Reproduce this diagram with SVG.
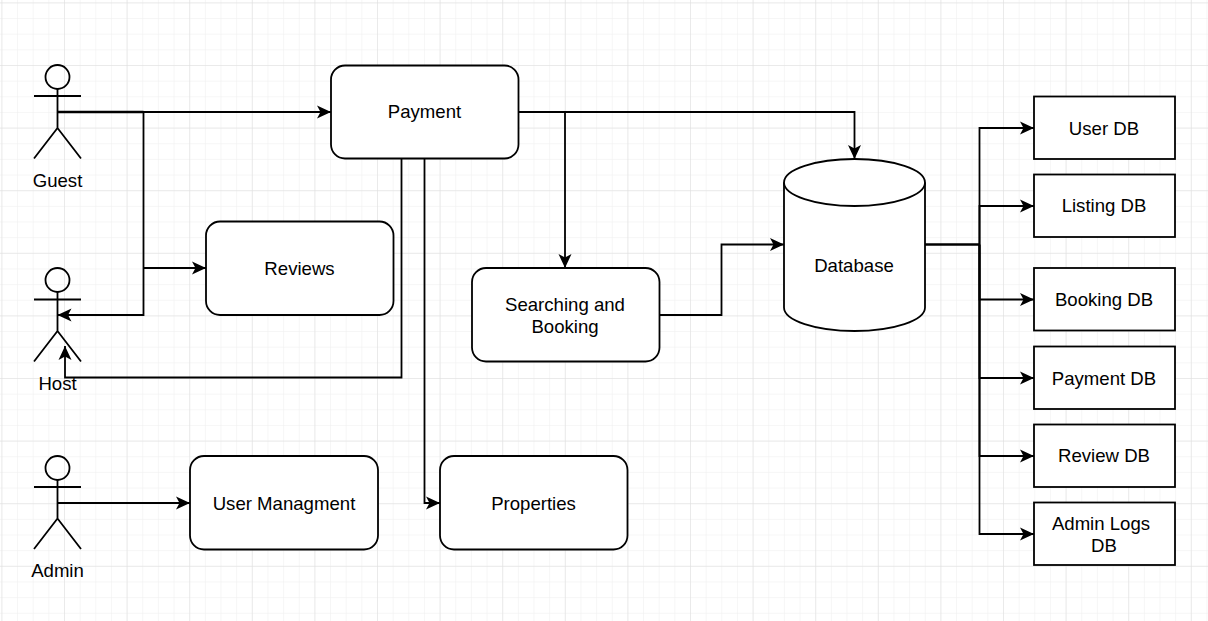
<svg xmlns="http://www.w3.org/2000/svg" width="1208" height="621" viewBox="0 0 1208 621">
<style>
text{font-family:"Liberation Sans",Arial,sans-serif;font-size:18.6px;fill:#000;text-anchor:middle}
.s{fill:#fff;stroke:#000;stroke-width:1.8}
.a{fill:none;stroke:#000;stroke-width:1.8}
.b{fill:none;stroke:#000;stroke-width:2.4}
.c{fill:none;stroke:#000;stroke-width:1.8;marker-end:url(#arr)}
</style>
<defs>
<pattern id="minor" width="15.65" height="15.65" patternUnits="userSpaceOnUse" x="1.4" y="2.4"><path d="M15.65 0H0V15.65" fill="none" stroke="#eeeeee" stroke-width="1"/></pattern>
<pattern id="major" width="62.6" height="62.6" patternUnits="userSpaceOnUse" x="1.4" y="2.4"><path d="M62.6 0H0V62.6" fill="none" stroke="#dedede" stroke-width="1"/></pattern>
<marker id="arr" markerUnits="userSpaceOnUse" markerWidth="16" markerHeight="15" refX="14" refY="7.500" orient="auto"><path d="M0 1L14 7.500L0 14L3.500 7.500Z" fill="#000"/></marker>
</defs>
<rect width="1208" height="621" fill="#fff"/>
<rect width="1208" height="621" fill="url(#minor)"/>
<rect width="1208" height="621" fill="url(#major)"/>
<g id="connectors">
<path class="c" d="M57.500 112H331"/>
<path class="b" d="M57.500 112H143.500"/>
<path class="a" d="M143.500 112V268"/>
<path class="c" d="M143.500 268H206"/>
<path class="c" d="M143.500 268V315H57.500"/>
<path class="c" d="M401.500 158.500V377.500H65V346"/>
<path class="c" d="M424.500 158.500V503H440"/>
<path class="c" d="M518.500 112H565V268"/>
<path class="c" d="M518.500 112H854.500V159"/>
<path class="c" d="M659.500 315H721.500V244.500H784"/>
<path class="c" d="M57.500 503H190"/>
<path class="b" d="M925 244.500H979.500"/>
<path class="c" d="M979.500 244.500V128H1034"/>
<path class="c" d="M979.500 244.500V206H1034"/>
<path class="c" d="M979.500 244.500V299.500H1034"/>
<path class="c" d="M979.500 244.500V378H1034"/>
<path class="c" d="M979.500 244.500V456H1034"/>
<path class="c" d="M979.500 244.500V534H1034"/>
</g>
<g id="guest"><circle class="a" cx="57.500" cy="77" r="12"/><path class="a" d="M57.500 89V128M34 96H81M57.500 128L34 158.500M57.500 128L81 158.500"/><text x="57.500" y="186.500">Guest</text></g>
<g id="host"><circle class="a" cx="57.500" cy="280" r="12"/><path class="a" d="M57.500 292V331M34 299.500H81M57.500 331L34 361.500M57.500 331L81 361.500"/><text x="57.500" y="390">Host</text></g>
<g id="admin"><circle class="a" cx="57.500" cy="468" r="12"/><path class="a" d="M57.500 480V518.500M34 487H81M57.500 518.500L34 549M57.500 518.500L81 549"/><text x="57.500" y="576.500">Admin</text></g>
<g id="payment"><rect class="s" x="331" y="65.500" width="187.500" height="93" rx="14"/><text x="424.500" y="118">Payment</text></g>
<g id="reviews"><rect class="s" x="206" y="221.500" width="187.500" height="93.500" rx="14"/><text x="299.500" y="274.500">Reviews</text></g>
<g id="search"><rect class="s" x="472" y="268" width="187.500" height="93.500" rx="14"/><text x="565" y="311">Searching and</text><text x="565" y="333">Booking</text></g>
<g id="usermgmt"><rect class="s" x="190" y="456" width="188" height="93.500" rx="14"/><text x="284" y="510">User Managment</text></g>
<g id="properties"><rect class="s" x="440" y="456" width="187.500" height="93.500" rx="14"/><text x="533.500" y="510">Properties</text></g>
<g id="database"><path class="s" d="M784 182.500C784 169.500 815.500 159 854.500 159S925 169.500 925 182.500V307.500C925 320.500 893.500 331 854.500 331S784 320.500 784 307.500Z"/><path class="a" d="M784 182.500C784 195.500 815.500 206 854.500 206S925 195.500 925 182.500"/><text x="854" y="271.500">Database</text></g>
<g id="userdb"><rect class="s" x="1034" y="96.500" width="141" height="62.500"/><text x="1104" y="134.500">User DB</text></g>
<g id="listingdb"><rect class="s" x="1034" y="174.500" width="141" height="62.500"/><text x="1104" y="211.500">Listing DB</text></g>
<g id="bookingdb"><rect class="s" x="1034" y="268" width="141" height="62.500"/><text x="1104" y="305.500">Booking DB</text></g>
<g id="paymentdb"><rect class="s" x="1034" y="346.500" width="141" height="62.500"/><text x="1104" y="384.500">Payment DB</text></g>
<g id="reviewdb"><rect class="s" x="1034" y="424.500" width="141" height="62.500"/><text x="1104" y="461.500">Review DB</text></g>
<g id="adminlogsdb"><rect class="s" x="1034" y="502.500" width="141" height="62.500"/><text x="1101" y="529.500">Admin Logs</text><text x="1104" y="551.500">DB</text></g>
</svg>
